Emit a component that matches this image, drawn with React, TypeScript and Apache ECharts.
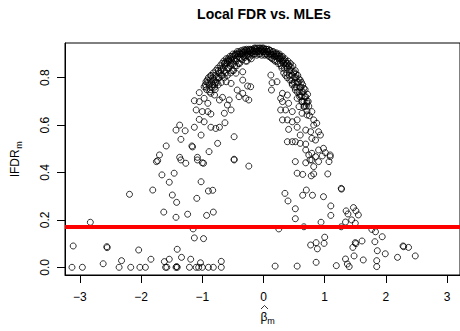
import React, { useEffect, useRef } from "react";
import * as echarts from "echarts";

const chartTitle = "Local FDR vs. MLEs";
const xTicks = [-3, -2, -1, 0, 1, 2, 3];
const yTicks = [0, 0.2, 0.4, 0.6, 0.8];
const threshold = 0.171;

// Low-lfdr points (left side)
const lowLeft: [number, number][] = [
  [-3.13, 0.0], [-2.96, 0.0], [-3.11, 0.09], [-2.83, 0.19], [-2.62, 0.015], [-2.56, 0.087], [-2.555, 0.083],
  [-2.36, 0.0], [-2.32, 0.028], [-2.17, 0.0], [-2.04, 0.073], [-2.02, 0.0], [-1.93, 0.0], [-1.84, 0.034],
  [-1.62, 0.024], [-1.6, 0.0], [-1.58, 0.0], [-1.54, 0.034], [-1.43, 0.0], [-1.42, 0.003], [-1.41, 0.0],
  [-1.41, 0.076], [-1.34, 0.042], [-1.21, 0.0], [-1.19, 0.034], [-1.1, 0.0], [-1.06, 0.0], [-1.03, 0.019],
  [-1.0, 0.0], [-0.9, 0.0], [-0.82, 0.0], [-0.69, 0.0], [-0.69, 0.025], [-1.15, 0.162], [-1.13, 0.124],
  [-0.98, 0.121],
];

// Mid-range points (left side)
const midLeft: [number, number][] = [
  [-2.19, 0.308], [-1.81, 0.326], [-1.75, 0.446], [-1.66, 0.39], [-1.63, 0.233], [-1.54, 0.359],
  [-1.49, 0.305], [-1.46, 0.397], [-1.43, 0.211], [-1.42, 0.274], [-1.35, 0.453], [-1.27, 0.439],
  [-1.24, 0.224], [-1.09, 0.291], [-1.08, 0.453], [-1.02, 0.361], [-0.98, 0.439], [-0.93, 0.219],
  [-0.9, 0.322], [-0.83, 0.325], [-0.82, 0.233], [-0.48, 0.453], [-0.24, 0.427], [-1.7, 0.474],
  [-1.73, 0.45], [-1.37, 0.464], [-1.08, 0.464], [-1.0, 0.441], [-0.89, 0.488], [-0.48, 0.456],
  [-1.59, 0.512], [-1.35, 0.54], [-1.17, 0.512], [-1.16, 0.508],
];

// Upper scattered points (left side)
const upperLeft: [number, number][] = [
  [-0.86, 0.807], [-0.94, 0.783], [-0.97, 0.762], [-1.05, 0.737], [-1.13, 0.703], [-1.05, 0.699],
  [-0.97, 0.713], [-1.1, 0.664], [-1.0, 0.657], [-0.91, 0.657], [-0.86, 0.647], [-1.05, 0.624],
  [-0.97, 0.614], [-0.63, 0.61], [-0.86, 0.591], [-0.78, 0.586], [-0.72, 0.591], [-1.13, 0.591],
  [-1.37, 0.6], [-1.43, 0.579], [-1.28, 0.576], [-1.02, 0.558], [-0.75, 0.523], [-0.48, 0.551],
  [-0.8, 0.76], [-0.8, 0.727], [-0.72, 0.706], [-0.67, 0.717], [-0.59, 0.685], [-0.53, 0.664],
  [-0.64, 0.65], [-0.56, 0.706], [-0.43, 0.748], [-0.34, 0.734], [-0.4, 0.72], [-0.29, 0.713],
  [-0.24, 0.706], [-0.34, 0.79], [-0.26, 0.765], [-0.21, 0.762], [-0.34, 0.825], [-0.45, 0.819],
  [-0.53, 0.776], [-0.61, 0.783], [-0.86, 0.734], [-0.91, 0.692],
];

// Dense arch of the highest lfdr values (outer layer)
const arch: [number, number][] = [
  [-0.95, 0.77], [-0.93, 0.75], [-0.92, 0.79], [-0.9, 0.8], [-0.89, 0.77], [-0.88, 0.74], [-0.86, 0.81],
  [-0.85, 0.78], [-0.84, 0.76], [-0.82, 0.82], [-0.81, 0.79], [-0.8, 0.77], [-0.78, 0.83], [-0.77, 0.8],
  [-0.76, 0.78], [-0.75, 0.84], [-0.73, 0.82], [-0.72, 0.8], [-0.71, 0.85], [-0.7, 0.83], [-0.68, 0.86],
  [-0.67, 0.81], [-0.66, 0.84], [-0.65, 0.87], [-0.63, 0.85], [-0.62, 0.82], [-0.61, 0.88], [-0.6, 0.86],
  [-0.58, 0.88], [-0.57, 0.84], [-0.56, 0.87], [-0.55, 0.89], [-0.53, 0.86], [-0.52, 0.89], [-0.51, 0.83],
  [-0.5, 0.9], [-0.48, 0.88], [-0.47, 0.85], [-0.46, 0.9], [-0.45, 0.87], [-0.43, 0.91], [-0.42, 0.89],
  [-0.41, 0.86], [-0.4, 0.91], [-0.38, 0.9], [-0.37, 0.88], [-0.36, 0.915], [-0.34, 0.91], [-0.33, 0.89],
  [-0.32, 0.918], [-0.3, 0.9], [-0.29, 0.87], [-0.28, 0.92], [-0.26, 0.91], [-0.25, 0.89], [-0.24, 0.92],
  [-0.22, 0.9], [-0.21, 0.92], [-0.2, 0.88], [-0.18, 0.92], [-0.17, 0.91], [-0.15, 0.925], [-0.14, 0.9],
  [-0.12, 0.92], [-0.1, 0.925], [-0.09, 0.91], [-0.07, 0.925], [-0.06, 0.9], [-0.04, 0.92], [-0.02, 0.925],
  [-0.01, 0.91], [0.01, 0.92], [0.03, 0.9], [0.04, 0.92], [0.06, 0.91], [0.08, 0.92], [0.09, 0.89],
  [0.11, 0.915], [0.13, 0.9], [0.14, 0.88], [0.16, 0.91], [0.18, 0.89], [0.19, 0.87], [0.21, 0.905],
  [0.23, 0.89], [0.24, 0.86], [0.26, 0.9], [0.28, 0.88], [0.29, 0.85], [0.31, 0.89], [0.32, 0.87],
  [0.34, 0.84], [0.35, 0.88], [0.37, 0.86], [0.38, 0.82], [0.4, 0.87], [0.41, 0.85], [0.42, 0.81],
  [0.44, 0.86], [0.45, 0.83], [0.46, 0.79], [0.48, 0.85], [0.49, 0.82], [0.5, 0.78], [0.52, 0.83],
  [0.53, 0.8], [0.54, 0.76], [0.56, 0.81], [0.57, 0.78], [0.58, 0.74], [0.6, 0.79], [0.61, 0.76],
  [0.62, 0.72], [0.64, 0.77], [0.65, 0.74], [0.66, 0.7], [0.68, 0.75], [0.69, 0.72], [0.7, 0.68],
  [0.72, 0.73], [0.73, 0.7],
];

// Dense arch (inner layer, filling the band)
const archInner: [number, number][] = [
  [-0.94, 0.76], [-0.91, 0.78], [-0.87, 0.79], [-0.87, 0.75], [-0.83, 0.8], [-0.83, 0.77], [-0.79, 0.81],
  [-0.79, 0.78], [-0.79, 0.75], [-0.74, 0.83], [-0.74, 0.8], [-0.74, 0.77], [-0.69, 0.84], [-0.69, 0.81],
  [-0.69, 0.78], [-0.64, 0.86], [-0.64, 0.83], [-0.64, 0.8], [-0.59, 0.87], [-0.59, 0.84], [-0.59, 0.81],
  [-0.54, 0.88], [-0.54, 0.85], [-0.54, 0.82], [-0.49, 0.89], [-0.49, 0.86], [-0.49, 0.83], [-0.44, 0.9],
  [-0.44, 0.88], [-0.44, 0.85], [-0.39, 0.905], [-0.39, 0.885], [-0.39, 0.86], [-0.35, 0.9], [-0.35, 0.875],
  [-0.31, 0.91], [-0.31, 0.885], [-0.27, 0.915], [-0.27, 0.895], [-0.27, 0.87], [-0.23, 0.91], [-0.23, 0.885],
  [-0.19, 0.915], [-0.19, 0.895], [-0.16, 0.9], [-0.13, 0.91], [-0.11, 0.895], [-0.08, 0.915], [-0.05, 0.91],
  [-0.03, 0.895], [0.0, 0.91], [0.02, 0.895], [0.05, 0.9], [0.07, 0.895], [0.1, 0.9], [0.12, 0.885],
  [0.15, 0.895], [0.17, 0.875], [0.2, 0.89], [0.22, 0.87], [0.25, 0.88], [0.27, 0.86], [0.3, 0.87],
  [0.3, 0.84], [0.33, 0.86], [0.33, 0.82], [0.36, 0.85], [0.36, 0.81], [0.39, 0.84], [0.39, 0.8],
  [0.43, 0.83], [0.43, 0.79], [0.47, 0.81], [0.47, 0.77], [0.51, 0.8], [0.51, 0.76], [0.55, 0.78],
  [0.55, 0.74], [0.59, 0.76], [0.59, 0.72], [0.63, 0.74], [0.63, 0.7], [0.67, 0.72], [0.67, 0.68],
  [0.71, 0.7], [0.71, 0.66], [0.74, 0.68], [0.75, 0.64],
];

// Crest of the arch (the darkest region near the peak)
const crest: [number, number][] = [
  [-0.62, 0.865], [-0.57, 0.875], [-0.52, 0.875], [-0.47, 0.895], [-0.42, 0.9], [-0.37, 0.9], [-0.33, 0.905],
  [-0.3, 0.915], [-0.26, 0.9], [-0.22, 0.915], [-0.2, 0.905], [-0.16, 0.915], [-0.13, 0.925], [-0.11, 0.912],
  [-0.08, 0.9], [-0.05, 0.925], [-0.03, 0.915], [0.0, 0.925], [0.02, 0.912], [0.05, 0.92], [0.07, 0.91],
  [0.1, 0.915], [0.12, 0.9], [0.15, 0.91], [0.17, 0.9], [0.2, 0.9], [0.22, 0.9], [0.25, 0.895],
  [0.27, 0.89], [0.3, 0.885], [0.33, 0.875], [0.36, 0.87], [0.39, 0.86], [0.42, 0.85], [0.45, 0.845],
  [0.5, 0.825], [0.53, 0.815], [0.58, 0.795], [0.62, 0.78], [0.66, 0.755],
];

// Upper scattered points (right side)
const upperRight: [number, number][] = [
  [0.12, 0.811], [0.14, 0.779], [0.13, 0.748], [0.22, 0.783], [0.28, 0.713], [0.31, 0.699], [0.28, 0.664],
  [0.36, 0.664], [0.41, 0.692], [0.47, 0.657], [0.31, 0.622], [0.39, 0.622], [0.47, 0.614], [0.55, 0.622],
  [0.63, 0.65], [0.71, 0.643], [0.79, 0.657], [0.82, 0.622], [0.41, 0.582], [0.55, 0.591], [0.6, 0.558],
  [0.69, 0.579], [0.77, 0.572], [0.82, 0.6], [0.87, 0.608], [0.9, 0.572], [0.39, 0.53], [0.47, 0.53],
  [0.52, 0.53], [0.6, 0.523], [0.69, 0.52], [0.79, 0.544], [0.85, 0.537], [0.93, 0.558], [0.69, 0.495],
  [0.74, 0.474], [0.79, 0.481], [0.85, 0.467], [0.9, 0.495], [0.98, 0.502], [1.01, 0.484], [0.96, 0.47],
  [1.09, 0.474], [0.79, 0.453], [0.52, 0.446], [0.47, 0.776], [0.52, 0.748], [0.55, 0.713], [0.6, 0.727],
  [0.63, 0.699], [0.71, 0.692], [0.66, 0.678], [0.58, 0.678], [0.31, 0.734], [0.39, 0.727], [1.09, 0.467],
];

// Mid-range points (right side)
const midRight: [number, number][] = [
  [0.35, 0.312], [0.4, 0.28], [0.52, 0.247], [0.52, 0.205], [0.55, 0.397], [0.64, 0.392], [0.64, 0.304],
  [0.69, 0.441], [0.7, 0.326], [0.76, 0.453], [0.78, 0.386], [0.8, 0.304], [0.82, 0.425], [0.82, 0.394],
  [0.9, 0.446], [0.94, 0.19], [0.98, 0.298], [1.05, 0.394], [1.07, 0.446], [1.1, 0.259], [1.1, 0.219],
  [1.27, 0.333], [1.275, 0.33], [1.34, 0.191], [1.35, 0.238], [1.38, 0.225], [1.44, 0.2], [1.47, 0.252],
  [1.5, 0.186], [1.51, 0.238], [1.55, 0.221],
];

// Low-lfdr points (right side)
const lowRight: [number, number][] = [
  [0.19, 0.005], [0.55, 0.005], [0.25, 0.162], [0.66, 0.171], [0.77, 0.094], [0.86, 0.104], [0.88, 0.078],
  [0.99, 0.101], [1.0, 0.127], [0.86, 0.021], [1.19, 0.007], [1.34, 0.035], [1.37, 0.014], [1.4, 0.003],
  [1.46, 0.084], [1.48, 0.048], [1.5, 0.104], [1.51, 0.1], [1.61, 0.111], [1.63, 0.031], [1.77, 0.16],
  [1.83, 0.15], [1.82, 0.108], [1.85, 0.028], [1.85, 0.003], [1.86, 0.07], [1.94, 0.129], [1.99, 0.057],
  [2.19, 0.042], [2.28, 0.09], [2.29, 0.087], [2.37, 0.084], [2.48, 0.048], [1.27, 0.171],
];

const FONT = "'Liberation Sans', Arial, Helvetica, sans-serif";

export default function App() {
  const ref = useRef<HTMLDivElement>(null);
  useEffect(() => {
    if (!ref.current) return;
    const chart = echarts.init(ref.current, undefined, { renderer: "svg" });
    const all = [
      ...lowLeft, ...midLeft, ...upperLeft, ...arch, ...archInner, ...crest, ...upperRight, ...midRight, ...lowRight,
    ];
    const fmtX = (v: number) => (v < 0 ? "\u2212" + Math.abs(v) : String(v));
    chart.setOption({
      animation: false,
      backgroundColor: "#fff",
      grid: {
        left: 65,
        top: 43,
        right: -2,
        bottom: 56,
        show: true,
        borderColor: "#000",
        borderWidth: 1,
        backgroundColor: "transparent",
        containLabel: false,
      },
      xAxis: {
        type: "value",
        min: -3.244,
        max: 3.211,
        splitLine: { show: false },
        axisLine: { show: true, onZero: false, lineStyle: { color: "#000", width: 1 } },
        axisTick: { show: true, inside: false, length: 8, customValues: xTicks, lineStyle: { color: "#000" } },
        axisLabel: {
          customValues: xTicks,
          formatter: fmtX,
          color: "#000",
          fontSize: 12,
          fontFamily: FONT,
          margin: 16,
        },
      },
      yAxis: {
        type: "value",
        min: -0.0325,
        max: 0.9465,
        splitLine: { show: false },
        axisLine: { show: true, onZero: false, lineStyle: { color: "#000", width: 1 } },
        axisTick: { show: true, inside: false, length: 8, customValues: yTicks, lineStyle: { color: "#000" } },
        axisLabel: {
          customValues: yTicks,
          formatter: (v: number) => v.toFixed(1),
          color: "#000",
          fontSize: 12,
          fontFamily: FONT,
          rotate: 90,
          margin: 14,
        },
      },
      series: [
        {
          type: "scatter",
          data: all,
          symbol: "circle",
          symbolSize: 6,
          itemStyle: { color: "rgba(0,0,0,0)", borderColor: "#000", borderWidth: 1 },
          silent: true,
          markLine: {
            silent: true,
            symbol: "none",
            label: { show: false },
            lineStyle: { color: "#ff0000", width: 4, type: "solid" },
            data: [{ yAxis: threshold }],
          },
        },
      ],
      graphic: [
        {
          type: "text",
          x: 264,
          y: 14,
          style: {
            text: chartTitle,
            font: `bold 14px ${FONT}`,
            fill: "#000",
            align: "center",
            verticalAlign: "middle",
          },
        },
        {
          type: "text",
          x: 15,
          y: 163,
          rotation: Math.PI / 2,
          style: {
            text: "lFDR",
            font: `12px ${FONT}`,
            fill: "#000",
            align: "center",
            verticalAlign: "middle",
          },
        },
        {
          type: "text",
          x: 19,
          y: 145,
          rotation: Math.PI / 2,
          style: {
            text: "m",
            font: `9px ${FONT}`,
            fill: "#000",
            align: "center",
            verticalAlign: "middle",
          },
        },
        {
          type: "text",
          x: 264,
          y: 317,
          style: {
            text: "\u03b2",
            font: `12px ${FONT}`,
            fill: "#000",
            align: "center",
            verticalAlign: "middle",
          },
        },
        {
          type: "polyline",
          shape: { points: [[261, 309], [264.5, 305.5], [268, 309]] },
          style: { stroke: "#000", lineWidth: 0.8, fill: "none" },
        },
        {
          type: "text",
          x: 271,
          y: 321,
          style: {
            text: "m",
            font: `9px ${FONT}`,
            fill: "#000",
            align: "center",
            verticalAlign: "middle",
          },
        },
      ],
    });
    return () => chart.dispose();
  }, []);
  return (
    <div
      ref={ref}
      style={{ position: "fixed", left: 0, top: 0, width: 460, height: 331, background: "#fff" }}
    />
  );
}
